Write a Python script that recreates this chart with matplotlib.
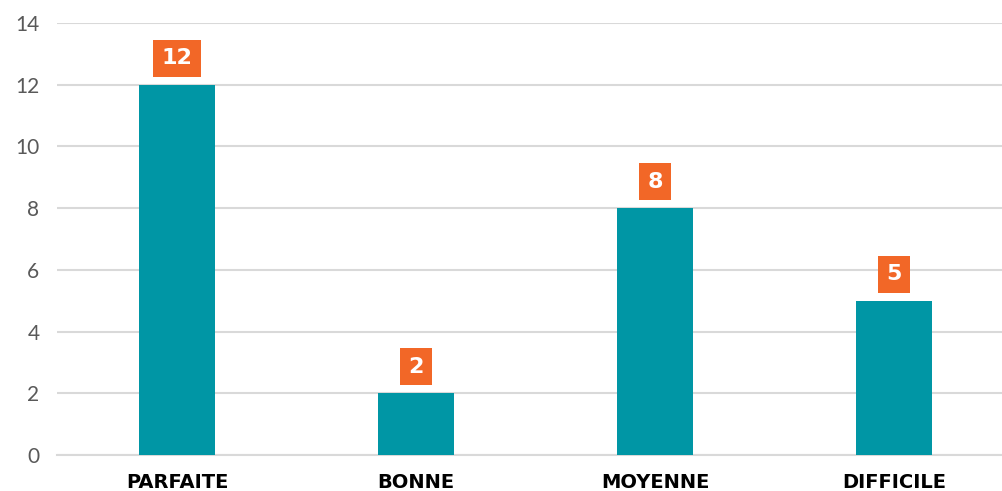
import matplotlib
matplotlib.use("Agg")
from matplotlib import pyplot as plt

categories = ["PARFAITE", "BONNE", "MOYENNE", "DIFFICILE"]
values = [12, 2, 8, 5]
y_ticks = [0, 2, 4, 6, 8, 10, 12, 14]

teal = "#0096A5"
orange = "#F26727"
grid_grey = "#D9D9D9"

fig = plt.figure(figsize=(10.03, 4.91), dpi=100)
ax = fig.add_axes([57.5 / 1003, 36 / 491, 956 / 1003, 432 / 491])

x = range(len(categories))
ax.bar(x, values, width=0.314, color=teal, zorder=3)

# value labels in orange boxes
for xi, v in zip(x, values):
    ax.annotate(str(v), (xi, v), xytext=(0, 19), textcoords="offset points",
                ha="center", va="center", color="white", fontsize=16,
                fontweight="bold", family="DejaVu Sans",
                bbox=dict(boxstyle="square,pad=0.38", fc=orange, ec="none"),
                zorder=4)

ax.set_xlim(-0.5, len(categories) - 0.5)
ax.set_ylim(0, 14)
ax.set_yticks(y_ticks)
ax.set_yticklabels([str(t) for t in y_ticks], family="Lato", fontsize=15, color="#595959")
ax.set_xticks(list(x))
ax.set_xticklabels(categories, family="DejaVu Sans", fontweight="bold", fontsize=14, color="black")

ax.grid(axis="y", color=grid_grey, linewidth=1.5, zorder=0)
for s in ["top", "right", "left"]:
    ax.spines[s].set_visible(False)
ax.spines["bottom"].set_color(grid_grey)
ax.spines["bottom"].set_linewidth(1.5)
ax.tick_params(axis="both", length=0)
ax.tick_params(axis="y", pad=13)
ax.tick_params(axis="x", pad=13)

fig.savefig("out.png", dpi=100)
